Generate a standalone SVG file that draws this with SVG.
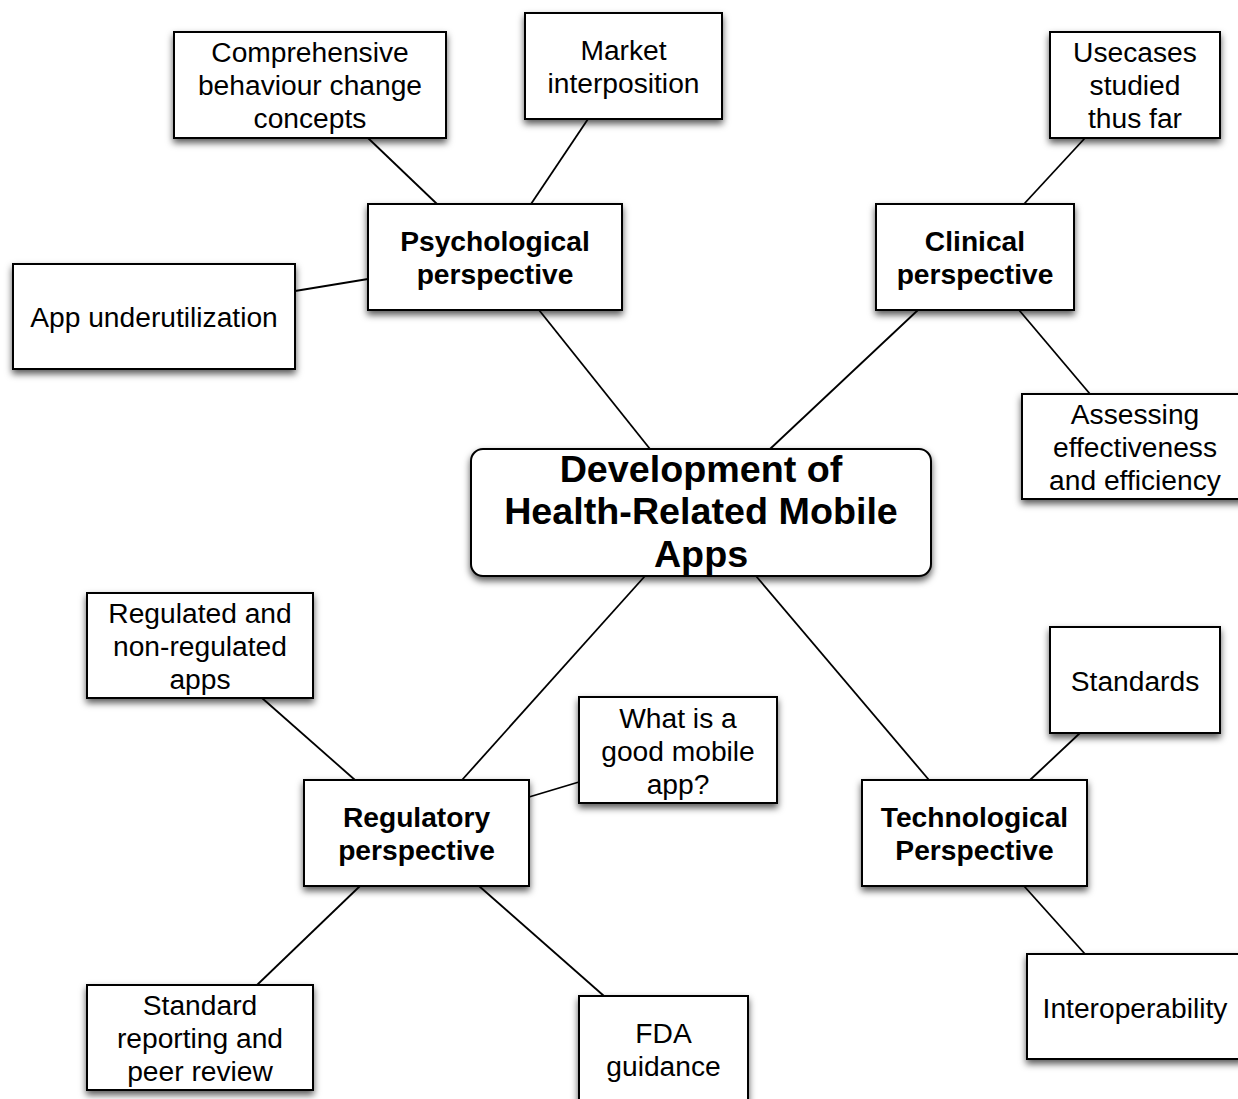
<svg xmlns="http://www.w3.org/2000/svg" width="1238" height="1099" viewBox="0 0 1238 1099">
  <style>
    .box { fill: #ffffff; stroke: #000000; stroke-width: 2; filter: url(#shadow); }
    .lbl { font-family: "Liberation Sans", Arial, Helvetica, sans-serif; font-size: 28.2px; fill: #000000; text-anchor: middle; }
    .bold { font-weight: bold; }
    .big { font-size: 37.7px; font-weight: bold; }
    .edge { stroke: #000000; stroke-width: 1.8; fill: none; }
  </style>
  <defs>
    <filter id="shadow" x="-10%" y="-15%" width="120%" height="140%">
      <feDropShadow dx="0" dy="4" stdDeviation="3.5" flood-color="#000000" flood-opacity="0.65"/>
    </filter>
  </defs>
  <rect width="1238" height="1099" fill="#ffffff"/>

  <g id="connectors">
    <line class="edge" x1="368" y1="138" x2="437" y2="204"/>
    <line class="edge" x1="588" y1="119" x2="531" y2="204"/>
    <line class="edge" x1="368" y1="279" x2="295" y2="291"/>
    <line class="edge" x1="539" y1="310" x2="650" y2="449"/>
    <line class="edge" x1="1085" y1="138" x2="1024" y2="204"/>
    <line class="edge" x1="1019" y1="310" x2="1090" y2="394"/>
    <line class="edge" x1="918" y1="310" x2="770" y2="449"/>
    <line class="edge" x1="645" y1="576" x2="462" y2="780"/>
    <line class="edge" x1="756" y1="576" x2="929" y2="780"/>
    <line class="edge" x1="262" y1="698" x2="355" y2="780"/>
    <line class="edge" x1="579" y1="782" x2="529" y2="797"/>
    <line class="edge" x1="360" y1="886" x2="257" y2="985"/>
    <line class="edge" x1="479" y1="886" x2="604" y2="996"/>
    <line class="edge" x1="1080" y1="733" x2="1030" y2="780"/>
    <line class="edge" x1="1024" y1="886" x2="1085" y2="954"/>
  </g>

  <g id="comprehensive">
    <rect class="box" x="174" y="32" width="272" height="106"/>
    <text class="lbl" x="310" y="62">Comprehensive</text>
    <text class="lbl" x="310" y="95">behaviour change</text>
    <text class="lbl" x="310" y="128">concepts</text>
  </g>

  <g id="market">
    <rect class="box" x="525" y="13" width="197" height="106"/>
    <text class="lbl" x="623.5" y="60">Market</text>
    <text class="lbl" x="623.5" y="93">interposition</text>
  </g>

  <g id="usecases">
    <rect class="box" x="1050" y="32" width="170" height="106"/>
    <text class="lbl" x="1135" y="62">Usecases</text>
    <text class="lbl" x="1135" y="95">studied</text>
    <text class="lbl" x="1135" y="128">thus far</text>
  </g>

  <g id="psychological">
    <rect class="box" x="368" y="204" width="254" height="106"/>
    <text class="lbl bold" x="495" y="251">Psychological</text>
    <text class="lbl bold" x="495" y="284">perspective</text>
  </g>

  <g id="clinical">
    <rect class="box" x="876" y="204" width="198" height="106"/>
    <text class="lbl bold" x="975" y="251">Clinical</text>
    <text class="lbl bold" x="975" y="284">perspective</text>
  </g>

  <g id="underutilization">
    <rect class="box" x="13" y="264" width="282" height="105"/>
    <text class="lbl" x="154" y="327">App underutilization</text>
  </g>

  <g id="assessing">
    <rect class="box" x="1022" y="394" width="226" height="105"/>
    <text class="lbl" x="1135" y="424">Assessing</text>
    <text class="lbl" x="1135" y="457">effectiveness</text>
    <text class="lbl" x="1135" y="490">and efficiency</text>
  </g>

  <g id="central">
    <rect class="box" x="471" y="449" width="460" height="127" rx="12" ry="12"/>
    <text class="lbl big" x="701" y="482">Development of</text>
    <text class="lbl big" x="701" y="524">Health-Related Mobile</text>
    <text class="lbl big" x="701" y="567">Apps</text>
  </g>

  <g id="regulated">
    <rect class="box" x="87" y="593" width="226" height="105"/>
    <text class="lbl" x="200" y="623">Regulated and</text>
    <text class="lbl" x="200" y="656">non-regulated</text>
    <text class="lbl" x="200" y="689">apps</text>
  </g>

  <g id="good-app">
    <rect class="box" x="579" y="697" width="198" height="106"/>
    <text class="lbl" x="678" y="728">What is a</text>
    <text class="lbl" x="678" y="761">good mobile</text>
    <text class="lbl" x="678" y="794">app?</text>
  </g>

  <g id="standards">
    <rect class="box" x="1050" y="627" width="170" height="106"/>
    <text class="lbl" x="1135" y="691">Standards</text>
  </g>

  <g id="regulatory">
    <rect class="box" x="304" y="780" width="225" height="106"/>
    <text class="lbl bold" x="416.5" y="827">Regulatory</text>
    <text class="lbl bold" x="416.5" y="860">perspective</text>
  </g>

  <g id="technological">
    <rect class="box" x="862" y="780" width="225" height="106"/>
    <text class="lbl bold" x="974.5" y="827">Technological</text>
    <text class="lbl bold" x="974.5" y="860">Perspective</text>
  </g>

  <g id="reporting">
    <rect class="box" x="87" y="985" width="226" height="105"/>
    <text class="lbl" x="200" y="1015">Standard</text>
    <text class="lbl" x="200" y="1048">reporting and</text>
    <text class="lbl" x="200" y="1081">peer review</text>
  </g>

  <g id="fda">
    <rect class="box" x="579" y="996" width="169" height="110"/>
    <text class="lbl" x="663.5" y="1043">FDA</text>
    <text class="lbl" x="663.5" y="1076">guidance</text>
  </g>

  <g id="interoperability">
    <rect class="box" x="1027" y="954" width="216" height="105"/>
    <text class="lbl" x="1135" y="1018">Interoperability</text>
  </g>
</svg>
